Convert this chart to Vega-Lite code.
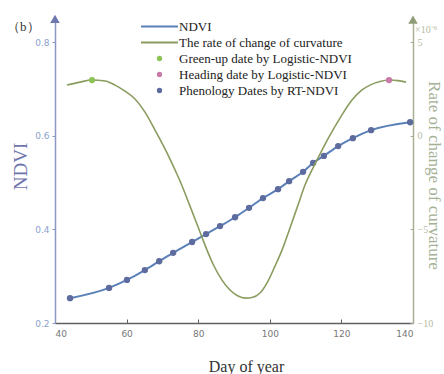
{
  "$schema": "https://vega.github.io/schema/vega-lite/v6.json",
  "width": 358,
  "height": 303,
  "autosize": "none",
  "padding": {"left": 55, "top": 20, "right": 31, "bottom": 51},
  "background": "white",
  "config": {"view": {"stroke": null}, "font": "Liberation Serif", "legend": {"title": null}},
  "title": {"text": "（b）", "anchor": "start", "frame": "group", "orient": "top", "dx": -48, "dy": 25, "offset": 0, "fontSize": 13, "fontWeight": "normal", "font": "Liberation Serif", "color": "#333333", "baseline": "middle"},
  "datasets": {
    "ndvi": [
      {"day": 44.2, "ndvi": 0.253}, {"day": 55.1, "ndvi": 0.275}, {"day": 60.1, "ndvi": 0.292},
      {"day": 65.1, "ndvi": 0.313}, {"day": 69.1, "ndvi": 0.332}, {"day": 73.0, "ndvi": 0.350},
      {"day": 78.3, "ndvi": 0.373}, {"day": 82.2, "ndvi": 0.390}, {"day": 86.1, "ndvi": 0.407},
      {"day": 90.3, "ndvi": 0.426}, {"day": 94.2, "ndvi": 0.446}, {"day": 98.1, "ndvi": 0.467},
      {"day": 102.3, "ndvi": 0.486}, {"day": 105.4, "ndvi": 0.503}, {"day": 109.3, "ndvi": 0.523},
      {"day": 112.1, "ndvi": 0.542}, {"day": 115.1, "ndvi": 0.557}, {"day": 119.1, "ndvi": 0.578},
      {"day": 123.2, "ndvi": 0.595}, {"day": 128.3, "ndvi": 0.612}, {"day": 139.2, "ndvi": 0.629}
    ],
    "curv": [
      {"day": 43.35, "c": 2.70}, {"day": 46.98, "c": 2.86}, {"day": 50.34, "c": 2.97},
      {"day": 53.97, "c": 2.92}, {"day": 56.76, "c": 2.70}, {"day": 59.55, "c": 2.38},
      {"day": 62.35, "c": 1.96}, {"day": 65.14, "c": 1.26}, {"day": 67.93, "c": 0.30},
      {"day": 70.73, "c": -0.71}, {"day": 73.52, "c": -1.83}, {"day": 74.92, "c": -2.42},
      {"day": 77.71, "c": -3.76}, {"day": 80.50, "c": -5.14}, {"day": 82.46, "c": -6.11},
      {"day": 84.13, "c": -6.85}, {"day": 86.65, "c": -7.71}, {"day": 88.88, "c": -8.24},
      {"day": 91.12, "c": -8.56}, {"day": 93.07, "c": -8.67}, {"day": 95.03, "c": -8.64},
      {"day": 97.26, "c": -8.40}, {"day": 99.50, "c": -7.76}, {"day": 101.45, "c": -6.96},
      {"day": 103.41, "c": -6.11}, {"day": 105.64, "c": -4.93}, {"day": 107.88, "c": -3.70},
      {"day": 109.83, "c": -2.63}, {"day": 111.79, "c": -1.83}, {"day": 114.02, "c": -0.98},
      {"day": 116.82, "c": 0.03}, {"day": 119.61, "c": 0.94}, {"day": 122.96, "c": 1.90},
      {"day": 125.75, "c": 2.44}, {"day": 127.99, "c": 2.70}, {"day": 130.78, "c": 2.89},
      {"day": 133.30, "c": 2.97}, {"day": 135.81, "c": 2.94}, {"day": 138.04, "c": 2.86}
    ],
    "dates": [
      {"day": 50.34, "c": 2.97, "series": "Green-up date by Logistic-NDVI"},
      {"day": 133.3, "c": 2.97, "series": "Heading date by Logistic-NDVI"}
    ],
    "leftArrow": [{"day": 40, "ndvi": 0.85}],
    "rightArrow": [{"day": 140, "c": 6.2}],
    "unit": [{"day": 140, "c": 5.62, "label": "×10⁻⁶"}]
  },
  "encoding": {
    "x": {
      "field": "day", "type": "quantitative",
      "scale": {"domain": [40, 140], "nice": false},
      "axis": {
        "title": "Day of year", "values": [40, 60, 80, 100, 120, 140], "grid": false,
        "domainColor": "#5f5f5f", "domainWidth": 1.5, "tickColor": "#5f5f5f", "tickSize": -4,
        "labelFont": "DejaVu Sans", "labelFontSize": 9, "labelColor": "#777777", "labelPadding": 10,
        "titleFont": "Liberation Serif", "titleFontSize": 16, "titleFontWeight": "normal", "titleColor": "#333333",
        "titleX": 191, "titleY": 43, "titleBaseline": "middle"
      }
    }
  },
  "layer": [
    {
      "encoding": {
        "y": {
          "field": "ndvi", "type": "quantitative",
          "scale": {"domain": [0.2, 0.8474], "nice": false, "zero": false},
          "axis": {
            "title": "NDVI", "values": [0.2, 0.4, 0.6, 0.8], "format": ".1f", "grid": false,
            "domainColor": "#8c98c4", "domainWidth": 1.5, "tickColor": "#8c98c4", "tickSize": 3,
            "labelFont": "DejaVu Sans", "labelFontSize": 9, "labelColor": "#8aa0cc", "labelPadding": 3,
            "titleFont": "Liberation Serif", "titleFontSize": 19, "titleFontWeight": "normal", "titleColor": "#7075ad",
            "titleX": -35, "titleY": 146, "titleBaseline": "middle"
          }
        }
      },
      "layer": [
        {
          "data": {"name": "ndvi"},
          "mark": {"type": "line", "interpolate": "monotone", "strokeWidth": 2},
          "encoding": {
            "color": {
              "datum": "NDVI",
              "title": null,
              "scale": {
                "domain": ["NDVI", "The rate of change of curvature", "Green-up date by Logistic-NDVI", "Heading date by Logistic-NDVI", "Phenology Dates by RT-NDVI"],
                "range": ["#5b80b8", "#8a9c5e", "#8dc354", "#c97aa8", "#5d6b9e"]
              },
              "legend": {
                "title": null, "orient": "none", "legendX": 98, "legendY": 0, "padding": 0,
                "symbolSize": 64, "labelFont": "Liberation Serif", "labelFontSize": 13, "labelColor": "#222222",
                "labelOffset": 13, "rowPadding": 2, "labelLimit": 400,
                "encode": {
                  "symbols": {
                    "update": {
                      "shape": {"signal": "(datum.value === 'NDVI' || datum.value === 'The rate of change of curvature') ? 'stroke' : 'circle'"},
                      "size": {"signal": "(datum.value === 'NDVI' || datum.value === 'The rate of change of curvature') ? 1369 : 28"},
                      "strokeWidth": {"signal": "(datum.value === 'NDVI' || datum.value === 'The rate of change of curvature') ? 2 : 0"},
                      "opacity": {"value": 1}
                    }
                  }
                }
              }
            }
          }
        },
        {
          "data": {"name": "ndvi"},
          "mark": {"type": "point", "filled": true, "size": 40, "opacity": 1},
          "encoding": {"color": {"datum": "Phenology Dates by RT-NDVI", "title": null}}
        },
        {
          "data": {"name": "leftArrow"},
          "mark": {"type": "point", "shape": "triangle-up", "filled": true, "size": 90, "color": "#6e78ae", "opacity": 1, "clip": false}
        }
      ]
    },
    {
      "encoding": {
        "y": {
          "field": "c", "type": "quantitative",
          "scale": {"domain": [-10, 6.175], "nice": false, "zero": false},
          "axis": {
            "orient": "right", "title": "Rate of change of curvature", "values": [-10, -5, 0, 5], "grid": false,
            "domainColor": "#a7b195", "domainWidth": 1.5, "tickColor": "#a7b195", "tickSize": -3,
            "labelFont": "Liberation Serif", "labelFontSize": 10, "labelColor": "#b4bb9f", "labelPadding": 7,
            "titleFont": "Liberation Serif", "titleFontSize": 17, "titleFontWeight": "normal", "titleColor": "#a5b195",
            "titleX": 20, "titleY": 155, "titleBaseline": "middle"
          }
        }
      },
      "layer": [
        {
          "data": {"name": "curv"},
          "mark": {"type": "line", "interpolate": "monotone", "strokeWidth": 1.6},
          "encoding": {"color": {"datum": "The rate of change of curvature", "title": null}}
        },
        {
          "data": {"name": "dates"},
          "mark": {"type": "point", "filled": true, "size": 40, "opacity": 1},
          "encoding": {"color": {"field": "series", "type": "nominal", "title": null}}
        },
        {
          "data": {"name": "rightArrow"},
          "mark": {"type": "point", "shape": "triangle-up", "filled": true, "size": 90, "color": "#8f9c78", "opacity": 1, "clip": false}
        },
        {
          "data": {"name": "unit"},
          "mark": {"type": "text", "align": "left", "baseline": "middle", "dx": 2, "font": "Liberation Serif", "fontSize": 10, "color": "#b4bb9f"},
          "encoding": {"text": {"field": "label"}}
        }
      ]
    }
  ],
  "resolve": {"scale": {"y": "independent"}}
}
